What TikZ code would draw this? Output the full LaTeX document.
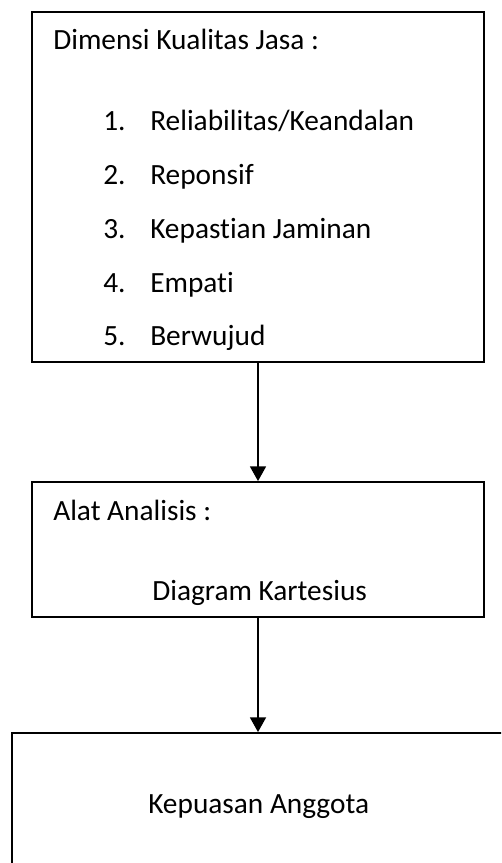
\documentclass[tikz,border=0pt]{standalone}
\usepackage{fontspec}
\setmainfont{Carlito}[Ligatures=NoCommon]
\usetikzlibrary{arrows.meta}
\begin{document}
\begin{tikzpicture}[x=0.75pt,y=-0.75pt,
  box/.style={draw=black,line width=1.4pt,rectangle,inner sep=0pt,fill=none},
  txt/.style={anchor=base west,inner sep=0pt,font=\fontsize{22}{26}\selectfont},
  conn/.style={line width=1.1pt,-{Triangle[width=12pt,length=11pt]}}]
\useasboundingbox (0,0) rectangle (501,863);
\clip (0,0) rectangle (501,863);
\fill[white] (0,0) rectangle (501,863);
% boxes
\node[box,minimum width=339pt,minimum height=262.5pt] (b1) at (258,187) {};
\node[box,minimum width=339pt,minimum height=101.25pt] (b2) at (258,549.5) {};
\node[box,minimum width=388.5pt,minimum height=162.75pt] (b3) at (271,841.5) {};
% texts box 1
\node[txt] (t1) at (53,50) {Dimensi Kualitas Jasa :};
\node[txt] (n1) at (103,131) {1.};
\node[txt] (i1) at (150,131) {Reliabilitas/Keandalan};
\node[txt] (n2) at (103,185) {2.};
\node[txt] (i2) at (150,185) {Reponsif};
\node[txt] (n3) at (103,238) {3.};
\node[txt] (i3) at (150,238) {Kepastian Jaminan};
\node[txt] (n4) at (103,292) {4.};
\node[txt] (i4) at (150,292) {Empati};
\node[txt] (n5) at (103,345) {5.};
\node[txt] (i5) at (150,345) {Berwujud};
% texts box 2
\node[txt] (t2) at (53,520) {Alat Analisis :};
\node[txt] (d2) at (152,600) {Diagram Kartesius};
% text box 3
\node[txt] (t3) at (148,813) {Kepuasan Anggota};
% connectors
\draw[conn] (b1.south) -- (b2.north);
\draw[conn] (b2.south) -- (b2.south |- b3.north);
\end{tikzpicture}
\end{document}
